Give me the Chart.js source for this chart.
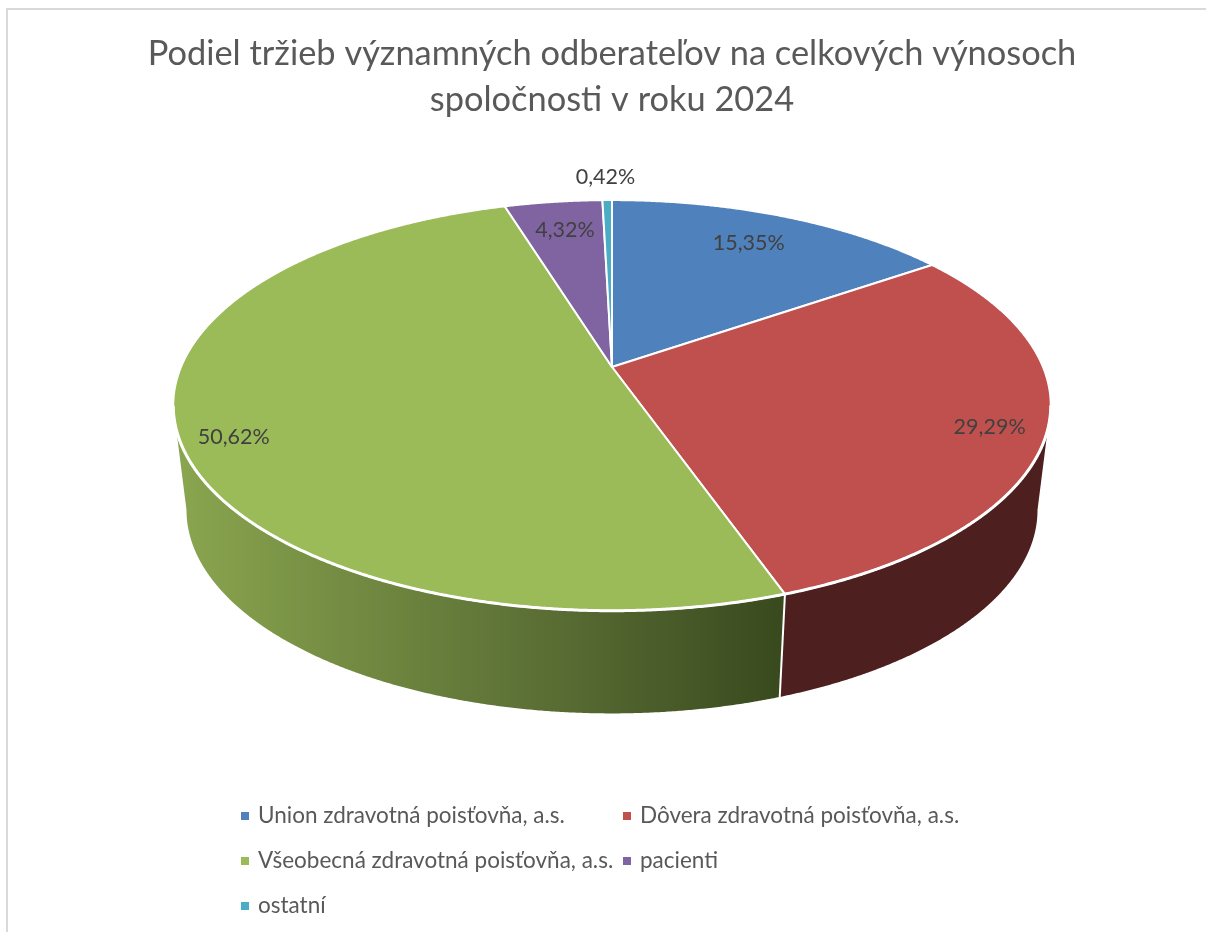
<!DOCTYPE html>
<html lang="sk">
<head>
<meta charset="utf-8">
<title>Podiel tržieb</title>
<script src="https://cdn.jsdelivr.net/npm/chart.js@4"></script>
<style>
    html, body { margin: 0; padding: 0; background: #fff; }
    #frame { position: absolute; left: 6px; top: 8px; width: 1200px; height: 924px; border-left: 2px solid #d9d9d9; border-top: 2px solid #d9d9d9; box-sizing: border-box; pointer-events: none; }
    canvas { display: block; position: absolute; left: 0; top: 0; }
</style>
</head>
<body>
<canvas id="pieChart" width="1206" height="932"></canvas>
<div id="frame"></div>
<script>
const titleLines = ['Podiel tržieb významných odberateľov na celkových výnosoch', 'spoločnosti v roku 2024'];
const categories = ['Union zdravotná poisťovňa, a.s.', 'Dôvera zdravotná poisťovňa, a.s.', 'Všeobecná zdravotná poisťovňa, a.s.', 'pacienti', 'ostatní'];
const shares = [15.35, 29.29, 50.62, 4.32, 0.42];
const sliceColors = ['#4f81bd', '#c0504d', '#9bbb59', '#8064a2', '#4bacc6'];
const sideColors = ['#2f4d71', '#4d1f1e', null, '#4d3c61', '#2d6776'];

// how far out each value label sits, 1 = rim of the pie
const labelRadius = [0.81, 0.89, 0.87, 0.83, 1.18];
// small manual shift of the labels, Excel does not keep them exactly on the radius
const labelNudge = [[-6, 1], [-7, 3], [-3, 13], [3, 4], [-1, 2]];

const FONT = 'Lato, "Open Sans", sans-serif';

// perspective of the Excel 3D pie, u/v are unit circle coords (v+ = towards viewer)
const CENTER_X = 612;
const PERSP = -0.187;
function projectTop(u, v) {
    const d = 1 + PERSP * v;
    return { x: CENTER_X + 431 * u / d, y: (367 + 129.5 * v) / d };
}
function projectBottom(u, v) {
    const d = 1 + PERSP * v;
    return { x: CENTER_X + 418 * u / d, y: (472 + 108 * v) / d };
}
// Chart.js arc angle -> unit circle, angle -PI/2 is the top of the pie
const toUV = (angle) => ({ u: Math.cos(angle), v: Math.sin(angle) });

const pie3d = {
    id: 'pie3d',
    beforeDatasetsDraw(chart) {
        const ctx = chart.ctx;
        const arcs = chart.getDatasetMeta(0).data;
        const step = Math.PI / 720;

        // --- Side wall, only the front part is visible ---
        const wallFrom = Math.asin(-PERSP);
        const wallTo = Math.PI - wallFrom;
        arcs.forEach((arc, i) => {
            const start = Math.max(arc.startAngle, wallFrom);
            const end = Math.min(arc.endAngle, wallTo);
            if (end <= start) return;

            const top = [];
            const bottom = [];
            for (let a = start; a < end; a += step) {
                const p = toUV(a);
                top.push(projectTop(p.u, p.v));
                bottom.push(projectBottom(p.u, p.v));
            }
            const last = toUV(end);
            top.push(projectTop(last.u, last.v));
            bottom.push(projectBottom(last.u, last.v));

            ctx.beginPath();
            top.forEach((p, k) => k ? ctx.lineTo(p.x, p.y) : ctx.moveTo(p.x, p.y));
            bottom.reverse().forEach((p) => ctx.lineTo(p.x, p.y));
            ctx.closePath();

            if (sideColors[i]) {
                ctx.fillStyle = sideColors[i];
            } else {
                // green wall fades from light on the left to dark on the right
                const grad = ctx.createLinearGradient(180, 0, 780, 0);
                grad.addColorStop(0, '#8aa54f');
                grad.addColorStop(0.25, '#758e43');
                grad.addColorStop(0.6, '#5b6f35');
                grad.addColorStop(1, '#394a1e');
                ctx.fillStyle = grad;
            }
            ctx.fill();
        });

        // white seam between the walls
        arcs.forEach((arc) => {
            if (arc.endAngle <= wallFrom || arc.endAngle >= wallTo) return;
            const p = toUV(arc.endAngle);
            const a = projectTop(p.u, p.v);
            const b = projectBottom(p.u, p.v);
            ctx.beginPath();
            ctx.moveTo(a.x, a.y);
            ctx.lineTo(b.x, b.y);
            ctx.strokeStyle = '#fff';
            ctx.lineWidth = 2;
            ctx.stroke();
        });

        // --- Top face ---
        arcs.forEach((arc, i) => {
            const c = projectTop(0, 0);
            ctx.beginPath();
            ctx.moveTo(c.x, c.y);
            for (let a = arc.startAngle; a < arc.endAngle; a += step) {
                const p = toUV(a);
                const q = projectTop(p.u, p.v);
                ctx.lineTo(q.x, q.y);
            }
            const e = toUV(arc.endAngle);
            const qe = projectTop(e.u, e.v);
            ctx.lineTo(qe.x, qe.y);
            ctx.closePath();
            ctx.fillStyle = sliceColors[i];
            ctx.fill();
            ctx.strokeStyle = '#fff';
            ctx.lineWidth = 2;
            ctx.lineJoin = 'round';
            ctx.stroke();
        });

        // front rim is a bit heavier than the back one
        ctx.beginPath();
        for (let a = wallFrom; a < wallTo; a += step) {
            const p = toUV(a);
            const q = projectTop(p.u, p.v);
            ctx.lineTo(q.x, q.y);
        }
        ctx.strokeStyle = '#fff';
        ctx.lineWidth = 3;
        ctx.stroke();

        // --- Value labels ---
        ctx.font = '21.5px ' + FONT;
        ctx.fillStyle = '#404040';
        ctx.textAlign = 'center';
        ctx.textBaseline = 'middle';
        arcs.forEach((arc, i) => {
            const p = toUV((arc.startAngle + arc.endAngle) / 2);
            const q = projectTop(p.u * labelRadius[i], p.v * labelRadius[i]);
            ctx.fillText(shares[i].toFixed(2).replace('.', ',') + '%', q.x + labelNudge[i][0], q.y + labelNudge[i][1]);
        });

        return false; // the flat arcs are not drawn
    },
    afterDraw(chart) {
        // Excel style legend grid, two columns
        const ctx = chart.ctx;
        const colX = [241, 623];
        const rowY = [816, 861, 906];
        ctx.font = '22.5px ' + FONT;
        ctx.textAlign = 'left';
        ctx.textBaseline = 'middle';
        categories.forEach((name, i) => {
            const x = colX[i % 2];
            const y = rowY[Math.floor(i / 2)];
            ctx.fillStyle = sliceColors[i];
            ctx.fillRect(x, y - 4, 8, 8);
            ctx.fillStyle = '#595959';
            ctx.fillText(name, x + 17, y);
        });
    }
};

new Chart(document.getElementById('pieChart'), {
    type: 'pie',
    data: {
        labels: categories,
        datasets: [{ data: shares, backgroundColor: sliceColors }]
    },
    options: {
        responsive: false,
        animation: false,
        events: [],
        layout: { padding: { left: 18 } },
        plugins: {
            legend: { display: false },
            tooltip: { enabled: false },
            title: {
                display: true,
                text: titleLines,
                color: '#595959',
                font: { family: FONT, size: 34.4, weight: 'normal', lineHeight: 1.34 },
                padding: { top: 31, bottom: 10 }
            }
        }
    },
    plugins: [pie3d]
});
</script>
</body>
</html>
